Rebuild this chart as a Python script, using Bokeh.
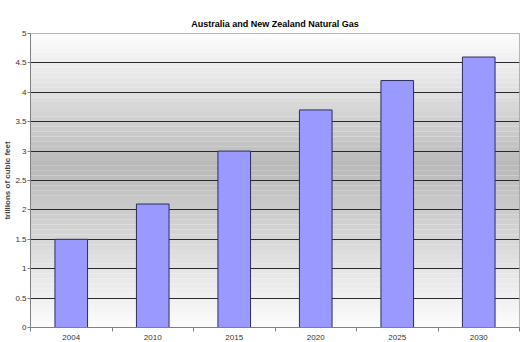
from bokeh.plotting import figure
from bokeh.models import FixedTicker, BoxAnnotation, Range1d, ColumnDataSource, Title
from bokeh.embed import file_html
from bokeh.resources import INLINE

years = ["2004", "2010", "2015", "2020", "2025", "2030"]
values = [1.5, 2.1, 3.0, 3.7, 4.2, 4.6]
y_ticks = [0, 0.5, 1, 1.5, 2, 2.5, 3, 3.5, 4, 4.5, 5]
y_labels = ["0", "0.5", "1", "1.5", "2", "2.5", "3", "3.5", "4", "4.5", "5"]

FONT = "Liberation Sans"

p = figure(width=520, height=342, output_backend="svg", toolbar_location=None,
           x_range=Range1d(0, len(years)), y_range=Range1d(0, 5),
           title=None,
           min_border_left=0, min_border_right=1, min_border_top=33, min_border_bottom=0)

p.add_layout(Title(text="Australia and New Zealand Natural Gas", align="center",
                   text_font=FONT, text_font_size="9px", text_font_style="bold",
                   text_color="#000000", standoff=10, offset=-2), "above")

p.background_fill_color = "white"
p.border_fill_color = "white"
p.outline_line_color = "#a0a0a0"

# gradient background (white top -> gray middle -> white bottom)
n = 60
for i in range(n):
    y0 = 5 * i / n
    y1 = 5 * (i + 1) / n
    ym = (y0 + y1) / 2
    if ym >= 2.75:
        g = 185 + (253 - 185) * (ym - 2.75) / (5 - 2.75)
    else:
        g = 185 + (252 - 185) * (2.75 - ym) / 2.75
    g = int(round(g))
    p.add_layout(BoxAnnotation(bottom=y0, top=y1, fill_color=(g, g, g), fill_alpha=1.0,
                               line_alpha=0, level="image"))

xs = [i + 0.5 for i in range(len(years))]
src = ColumnDataSource(dict(x=xs, top=values))
p.vbar(x="x", top="top", width=0.4, bottom=0, source=src,
       fill_color="#9999ff", line_color="#2e2e5c", line_width=1)

# grid
p.xgrid.visible = False
p.ygrid.ticker = FixedTicker(ticks=[0.5, 1, 1.5, 2, 2.5, 3, 3.5, 4, 4.5])
p.ygrid.grid_line_color = "#2a2a2a"
p.ygrid.grid_line_width = 1

# y axis
p.yaxis.ticker = FixedTicker(ticks=y_ticks)
p.yaxis.major_label_overrides = {t: l for t, l in zip(y_ticks, y_labels)}
p.yaxis.axis_label = "trillions of cubic feet"
p.yaxis.axis_label_text_font = FONT
p.yaxis.axis_label_text_font_size = "8px"
p.yaxis.axis_label_text_font_style = "bold"
p.yaxis.axis_label_standoff = 0
p.yaxis.major_label_text_font = FONT
p.yaxis.major_label_text_font_size = "8px"
p.yaxis.major_label_text_color = "#333333"
p.yaxis.major_label_standoff = 1
p.yaxis.axis_line_color = "#808080"
p.yaxis.major_tick_line_color = "#808080"
p.yaxis.major_tick_out = 3
p.yaxis.major_tick_in = 0
p.yaxis.minor_tick_line_color = None

# x axis
p.xaxis.ticker = FixedTicker(ticks=xs, minor_ticks=list(range(len(years) + 1)))
p.xaxis.major_label_overrides = {x: y for x, y in zip(xs, years)}
p.xaxis.major_label_text_font = FONT
p.xaxis.major_label_text_font_size = "8px"
p.xaxis.major_label_text_color = "#333333"
p.xaxis.major_label_standoff = 1
p.xaxis.axis_line_color = "#808080"
p.xaxis.major_tick_line_color = None
p.xaxis.minor_tick_line_color = "#808080"
p.xaxis.minor_tick_out = 4
p.xaxis.minor_tick_in = 0

open("out.html", "w").write(file_html(p, INLINE))
